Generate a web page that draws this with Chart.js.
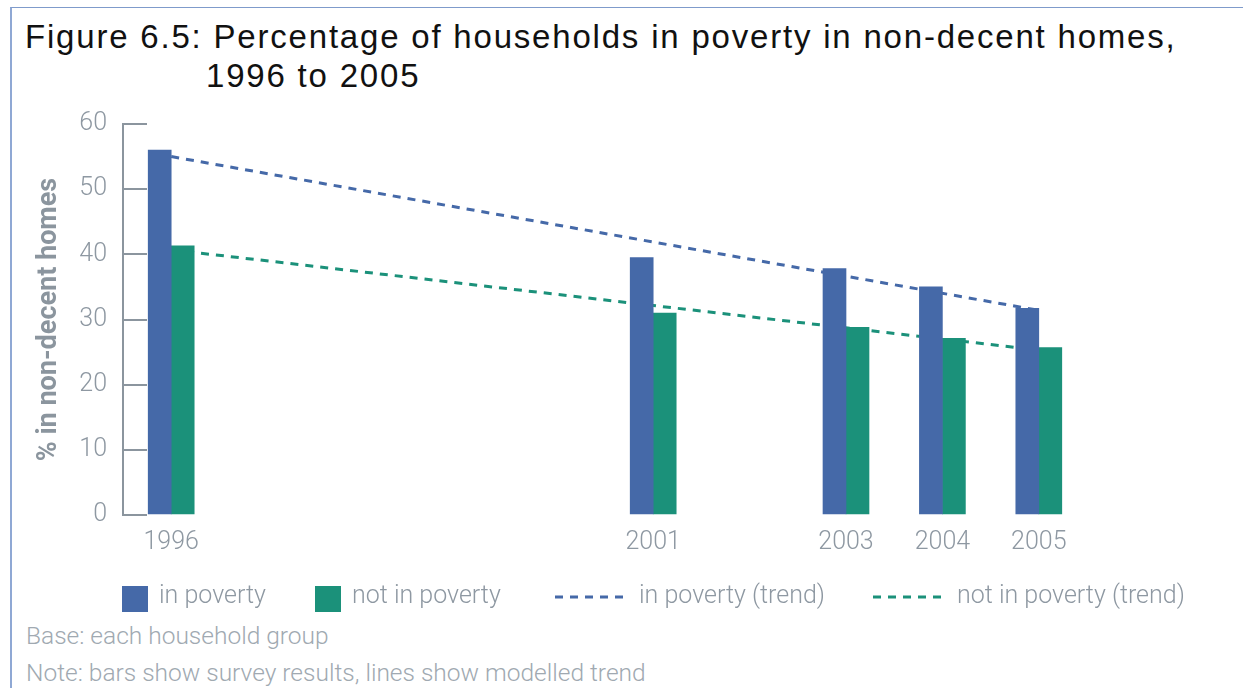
<!DOCTYPE html>
<html>
<head>
<meta charset="utf-8">
<script src="https://cdn.jsdelivr.net/npm/chart.js@4/dist/chart.umd.min.js"></script>
<style>
    html, body { margin: 0; padding: 0; background: #fff; }
    body { width: 1243px; height: 688px; position: relative; overflow: hidden; font-family: Roboto, "Liberation Sans", sans-serif; }
    .frame { position: absolute; left: 10px; top: 7px; right: 0; bottom: 0; border-top: 1.5px solid #7f9bcb; border-left: 2px solid #8fa8d4; }
    .title { position: absolute; left: 25px; font-family: "Liberation Sans", Arial, sans-serif; font-size: 33px; letter-spacing: 1.8px; color: #111; white-space: nowrap; line-height: 1; }
    .note { position: absolute; left: 26px; font-size: 24.5px; font-weight: 300; color: #a0a9b1; white-space: nowrap; line-height: 1; }
    #chartBox { position: absolute; left: 0; top: 100px; }
</style>
</head>
<body>
<div class="frame"></div>
<div class="title" style="top: 20px;">Figure 6.5: Percentage of households in poverty in non-decent homes,</div>
<div class="title" style="top: 59px; left: 206px;">1996 to 2005</div>
<div id="chartBox"><canvas id="chart" width="1243" height="520"></canvas></div>
<div class="note" style="top: 624px;">Base: each household group</div>
<div class="note" style="top: 661px;">Note: bars show survey results, lines show modelled trend</div>

<script>
// survey years and results
const years = [1996, 2001, 2003, 2004, 2005];
const inPoverty = [56, 39.5, 37.8, 35, 31.7];
const notInPoverty = [41.3, 31, 28.8, 27.1, 25.7];

// modelled trend, end points
const trendYears = [1996, 2005];
const trendInPoverty = [55, 31.4];
const trendNotInPoverty = [40.7, 25.3];

const yTicks = [0, 10, 20, 30, 40, 50, 60];

const BLUE = '#4569a8';
const GREEN = '#1b917a';
const AXIS_GREY = '#8b959e';
const TEXT_GREY = '#8e98a2';
const FONT = 'Roboto';

const points = (xs, ys) => xs.map((x, i) => ({ x: x, y: ys[i] }));

// legend drawn along the bottom; bars get a swatch, trends a dashed stroke
const bottomLegend = {
    id: 'bottomLegend',
    afterDraw(chart, args, opts) {
        const ctx = chart.ctx;
        const y = opts.y;
        ctx.save();
        ctx.font = `${opts.fontWeight} ${opts.fontSize}px ${FONT}`;
        ctx.textBaseline = 'middle';
        chart.data.datasets.forEach((ds, i) => {
            const x = opts.xs[i];
            let textX;
            if (ds.type === 'line') {
                ctx.strokeStyle = ds.borderColor;
                ctx.lineWidth = ds.borderWidth;
                ctx.setLineDash(ds.borderDash);
                ctx.beginPath();
                ctx.moveTo(x, y);
                ctx.lineTo(x + 69, y);
                ctx.stroke();
                ctx.setLineDash([]);
                textX = x + 84;
            } else {
                ctx.fillStyle = ds.backgroundColor;
                ctx.fillRect(x, y - 11, 26, 26);
                textX = x + 37;
            }
            ctx.fillStyle = TEXT_GREY;
            ctx.fillText(ds.label, textX, y);
        });
        ctx.restore();
    }
};

new Chart(document.getElementById('chart'), {
    type: 'bar',
    data: {
        datasets: [
            { label: 'in poverty', data: points(years, inPoverty), backgroundColor: BLUE, barThickness: 23, order: 0 },
            { label: 'not in poverty', data: points(years, notInPoverty), backgroundColor: GREEN, barThickness: 23, order: 0 },
            { type: 'line', label: 'in poverty (trend)', data: points(trendYears, trendInPoverty), borderColor: BLUE, borderWidth: 3, borderDash: [8, 7], pointRadius: 0, fill: false, order: 1 },
            { type: 'line', label: 'not in poverty (trend)', data: points(trendYears, trendNotInPoverty), borderColor: GREEN, borderWidth: 3, borderDash: [8, 7], pointRadius: 0, fill: false, order: 1 }
        ]
    },
    options: {
        responsive: false,
        animation: false,
        layout: { padding: { top: 24, right: 156, bottom: 0, left: 0 } },
        plugins: {
            legend: { display: false },
            tooltip: { enabled: false },
            bottomLegend: { y: 497, xs: [122, 315, 555, 873], fontSize: 25, fontWeight: 300 }
        },
        scales: {
            x: {
                type: 'linear',
                min: 1995.5,
                max: 2005.5,
                offset: false,
                grid: { display: false },
                border: { display: false },
                afterBuildTicks: scale => { scale.ticks = years.map(v => ({ value: v })); },
                afterFit: scale => {
                    scale.height = 105;
                    scale.paddingLeft = 0;
                    scale.paddingRight = 0;
                },
                ticks: {
                    autoSkip: false,
                    maxRotation: 0,
                    padding: 5,
                    color: TEXT_GREY,
                    font: { family: FONT, size: 25, weight: '300' },
                    callback: v => String(v)
                }
            },
            y: {
                min: 0,
                max: 60,
                afterBuildTicks: scale => { scale.ticks = yTicks.map(v => ({ value: v })); },
                afterFit: scale => {
                    scale.width = 123;
                    scale.paddingTop = 0;
                    scale.paddingBottom = 0;
                },
                // negative tick length puts the tick marks inside the plot
                grid: { drawOnChartArea: false, drawTicks: true, tickLength: -24, color: AXIS_GREY, lineWidth: 2 },
                border: { display: true, color: AXIS_GREY, width: 2 },
                ticks: {
                    padding: 40,
                    color: TEXT_GREY,
                    font: { family: FONT, size: 25, weight: '300' }
                },
                title: {
                    display: true,
                    text: '% in non-decent homes',
                    color: AXIS_GREY,
                    font: { family: FONT, size: 27, weight: 'bold' },
                    padding: { top: 33, bottom: 0 }
                }
            }
        }
    },
    plugins: [bottomLegend]
});
</script>
</body>
</html>
